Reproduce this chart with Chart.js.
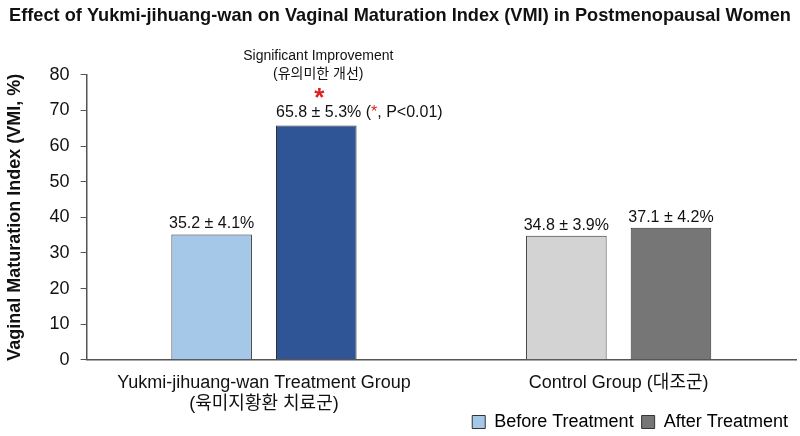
<!DOCTYPE html>
<html>
<head>
<meta charset="utf-8">
<script src="https://cdn.jsdelivr.net/npm/chart.js@4"></script>
<style>
  html, body { margin: 0; padding: 0; background: #fff; }
  #wrap { width: 800px; height: 436px; }
</style>
</head>
<body>
<div id="wrap"><canvas id="vmiChart"></canvas></div>
<script>
const groups = [
  ['Yukmi-jihuang-wan Treatment Group', '(육미지황환 치료군)'],
  ['Control Group (대조군)'],
];
const seriesNames = ['Before Treatment', 'After Treatment'];
const beforeValues = [35.2, 34.8];
const afterValues = [65.8, 37.1];
const beforeSd = [4.1, 3.9];
const afterSd = [5.3, 4.2];
const yTicks = [0, 10, 20, 30, 40, 50, 60, 70, 80];

const FONT = '"Liberation Sans", Arial, "Noto Sans CJK KR", sans-serif';
const beforeColors = ['#a6c8e8', '#d3d3d3'];
const afterColors = ['#2f5597', '#767676'];

// value labels + significance note above the bars
const barLabels = {
  id: 'barLabels',
  afterLayout(chart) {
    // x tick labels share rows with the legend, so don't clip them to the shrunk axis box
    chart.scales.x.bottom = chart.height;
  },
  afterDatasetsDraw(chart) {
    const ctx = chart.ctx;
    ctx.save();
    ctx.fillStyle = '#111';
    ctx.font = '16px ' + FONT;
    ctx.textBaseline = 'alphabetic';
    const sds = [beforeSd, afterSd];
    chart.data.datasets.forEach((ds, di) => {
      chart.getDatasetMeta(di).data.forEach((bar, i) => {
        const txt = ds.data[i].toFixed(1) + ' ± ' + sds[di][i].toFixed(1) + '%';
        if (di === 1 && i === 0) {
          // significant bar: text starts at bar left, with red star note
          const left = bar.x - bar.width / 2;
          ctx.textAlign = 'left';
          let x = left;
          const y = bar.y - 8;
          ctx.fillStyle = '#111';
          ctx.fillText(txt + ' (', x, y);
          x += ctx.measureText(txt + ' (').width;
          ctx.fillStyle = '#e02020';
          ctx.fillText('*', x, y);
          x += ctx.measureText('*').width;
          ctx.fillStyle = '#111';
          ctx.fillText(', P<0.01)', x, y);

          ctx.fillStyle = '#e02020';
          ctx.font = 'bold 26px ' + FONT;
          ctx.textAlign = 'center';
          ctx.fillText('*', bar.x + 3, bar.y - 19);

          ctx.fillStyle = '#111';
          ctx.font = '14px ' + FONT;
          ctx.fillText('Significant Improvement', bar.x + 2, bar.y - 65);
          ctx.fillText('(유의미한 개선)', bar.x + 2, bar.y - 47);
          ctx.font = '16px ' + FONT;
        } else {
          ctx.textAlign = 'center';
          ctx.fillStyle = '#111';
          ctx.fillText(txt, bar.x, bar.y - 6);
        }
      });
    });
    ctx.restore();
  },
};

new Chart(document.getElementById('vmiChart'), {
  type: 'bar',
  data: {
    labels: groups,
    datasets: [
      {
        label: seriesNames[0],
        data: beforeValues,
        backgroundColor: beforeColors,
        borderColor: '#333',
        borderWidth: 1,
      },
      {
        label: seriesNames[1],
        data: afterValues,
        backgroundColor: afterColors,
        borderColor: '#333',
        borderWidth: 1,
      },
    ],
  },
  options: {
    responsive: true,
    maintainAspectRatio: false,
    animation: false,
    categoryPercentage: 0.59,
    barPercentage: 0.77,
    layout: { padding: { left: 4, right: 4, top: 0, bottom: -5 } },
    plugins: {
      title: {
        display: true,
        text: 'Effect of Yukmi-jihuang-wan on Vaginal Maturation Index (VMI) in Postmenopausal Women',
        color: '#111',
        font: { family: FONT, size: 18.2, weight: 'bold' },
        padding: { top: 5, bottom: 48 },
      },
      legend: {
        position: 'bottom',
        align: 'end',
        labels: {
          color: '#111',
          font: { family: FONT, size: 18 },
          boxWidth: 13,
          boxHeight: 13,
          padding: 8,
          generateLabels: () => seriesNames.map((name, i) => ({
            text: name,
            fillStyle: i === 0 ? beforeColors[0] : afterColors[1],
            strokeStyle: '#333',
            lineWidth: 1,
            datasetIndex: i,
          })),
        },
      },
      tooltip: { enabled: false },
    },
    scales: {
      x: {
        // let the legend row sit beside the second line of the tick labels
        afterFit: (axis) => { axis.height -= 22; },
        grid: { display: false, drawTicks: false },
        border: { display: true, color: '#555', width: 1.5 },
        ticks: { color: '#111', font: { family: FONT, size: 18, lineHeight: 1.2 }, padding: 12 },
      },
      y: {
        min: 0,
        max: 80,
        afterBuildTicks: (axis) => { axis.ticks = yTicks.map(v => ({ value: v })); },
        grid: { display: true, drawOnChartArea: false, tickLength: 6, color: '#555' },
        border: { display: true, color: '#555', width: 1.5 },
        ticks: { color: '#111', font: { family: FONT, size: 18 }, padding: 11 },
        title: {
          display: true,
          text: 'Vaginal Maturation Index (VMI, %)',
          color: '#111',
          font: { family: FONT, size: 18, weight: 'bold' },
          padding: { top: 0, bottom: 13 },
        },
      },
    },
  },
  plugins: [barLabels],
});
</script>
</body>
</html>
